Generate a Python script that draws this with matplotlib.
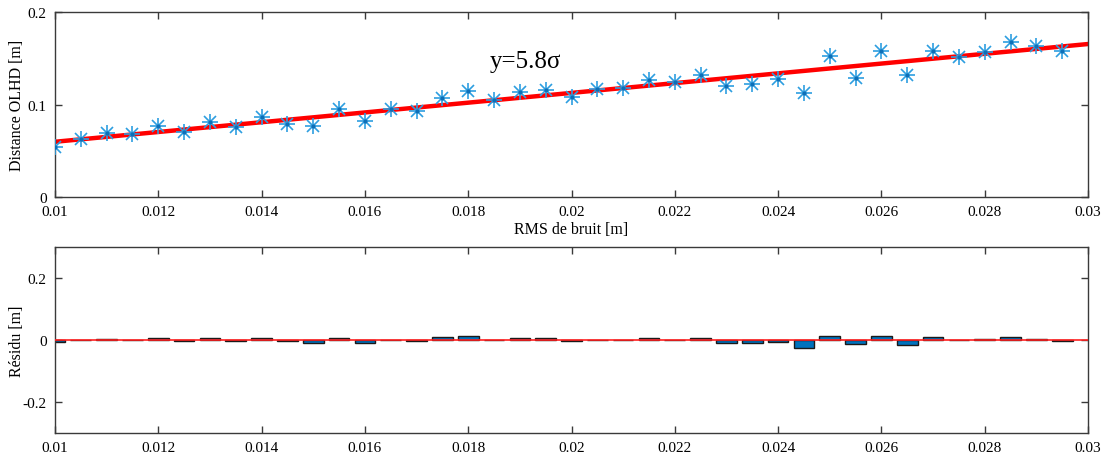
import numpy as np
import matplotlib
matplotlib.use("Agg")
import matplotlib.pyplot as plt

# ---- data ----
rms = [0.0100, 0.0105, 0.0110, 0.0115, 0.0120, 0.0125, 0.0130, 0.0135, 0.0140, 0.0145,
       0.0150, 0.0155, 0.0160, 0.0165, 0.0170, 0.0175, 0.0180, 0.0185, 0.0190, 0.0195,
       0.0200, 0.0205, 0.0210, 0.0215, 0.0220, 0.0225, 0.0230, 0.0235, 0.0240, 0.0245,
       0.0250, 0.0255, 0.0260, 0.0265, 0.0270, 0.0275, 0.0280, 0.0285, 0.0290, 0.0295]
distance = [0.0537, 0.0627, 0.0688, 0.0680, 0.0764, 0.0702, 0.0814, 0.0760, 0.0868, 0.0789,
            0.0768, 0.0951, 0.0825, 0.0950, 0.0933, 0.1076, 0.1150, 0.1052, 0.1132, 0.1160,
            0.1087, 0.1168, 0.1182, 0.1270, 0.1240, 0.1319, 0.1197, 0.1225, 0.1280, 0.1120,
            0.1528, 0.1290, 0.1580, 0.1315, 0.1580, 0.1517, 0.1570, 0.1672, 0.1632, 0.1580]
fit_intercept = 0.0070
fit_slope = 5.28
fit_label = "y=5.8σ"
xticks = [0.01, 0.012, 0.014, 0.016, 0.018, 0.02, 0.022, 0.024, 0.026, 0.028, 0.03]
xticklabels = ["0.01", "0.012", "0.014", "0.016", "0.018", "0.02", "0.022", "0.024", "0.026", "0.028", "0.03"]
top_yticks = [0, 0.1, 0.2]
top_yticklabels = ["0", "0.1", "0.2"]
bot_yticks = [-0.2, 0, 0.2]
bot_yticklabels = ["-0.2", "0", "0.2"]

x = np.array(rms)
y = np.array(distance)
line_x = np.array([0.01, 0.03])
line_y = fit_intercept + fit_slope * line_x
residual = y - (fit_intercept + fit_slope * x)

plt.rcParams['font.family'] = ['Liberation Serif', 'DejaVu Serif']
fig = plt.figure(figsize=(11.08, 4.64), dpi=100)
ax1 = fig.add_axes([0.0496, 0.573, 0.9324, 0.399])
ax2 = fig.add_axes([0.0496, 0.0647, 0.9324, 0.4008])

spine_col = '#3a3a3a'
for ax in (ax1, ax2):
    for s in ax.spines.values():
        s.set_color(spine_col)
        s.set_linewidth(1.0)
    ax.tick_params(direction='in', length=5, width=1.0, color=spine_col,
                   labelsize=11, top=True, right=True, pad=6)
    ax.set_xlim(0.01, 0.03)
    ax.set_xticks(xticks)
    ax.set_xticklabels(xticklabels)

# top panel
ax1.plot(line_x, line_y, color='#ff0000', lw=3.2, zorder=2)
star_col = '#2d9ee0'
ax1.plot(x, y, linestyle='none', marker='+', markersize=12, markeredgewidth=1.2,
         color=star_col, zorder=3)
ax1.plot(x, y, linestyle='none', marker='x', markersize=8.5, markeredgewidth=1.2,
         color=star_col, zorder=3)
ax1.plot(x, y, linestyle='none', marker='.', markersize=4, color='#0d6fb8', zorder=4)
ax1.set_ylim(0, 0.2)
ax1.set_yticks(top_yticks)
ax1.set_yticklabels(top_yticklabels)
ax1.set_xlabel("RMS de bruit [m]", fontsize=11.5, labelpad=2)
ax1.set_ylabel("Distance OLHD [m]", fontsize=11.5)
ax1.yaxis.set_label_coords(-0.029, 0.5)
ax1.text(0.0191, 0.147, fit_label, fontsize=18, ha='center', va='center')

# bottom panel
ax2.bar(x, residual, width=0.0004, color='#0072bd', edgecolor='#1a1a1a', linewidth=1.0, zorder=2)
ax2.axhline(0, color='#ff2020', lw=1.2, zorder=3)
ax2.set_ylim(-0.3, 0.3)
ax2.set_yticks(bot_yticks)
ax2.set_yticklabels(bot_yticklabels)
ax2.set_ylabel("Résidu [m]", fontsize=11.5)
ax2.yaxis.set_label_coords(-0.029, 0.5)

fig.savefig("out.png", dpi=100)
